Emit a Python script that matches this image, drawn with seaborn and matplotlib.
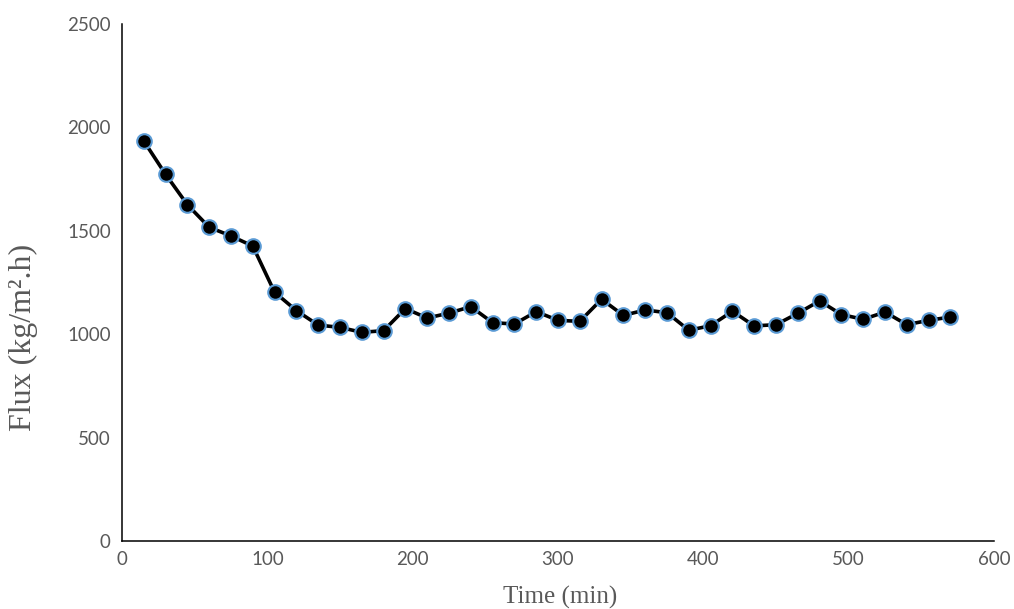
import numpy as np
import pandas as pd
import seaborn as sns
import matplotlib.pyplot as plt

# dados
tempo = [15, 30, 45, 60, 75, 90, 105, 120, 135, 150, 165, 180, 195, 210, 225, 240,
         255, 270, 285, 300, 315, 330, 345, 360, 375, 390, 405, 420, 435, 450, 465,
         480, 495, 510, 525, 540, 555, 570]
fluxo = [1934, 1773, 1626, 1517, 1475, 1426, 1203, 1114, 1044, 1033, 1009, 1017,
         1124, 1078, 1102, 1133, 1056, 1049, 1109, 1067, 1062, 1169, 1091, 1117,
         1104, 1019, 1041, 1111, 1040, 1046, 1101, 1161, 1095, 1072, 1107, 1046,
         1067, 1083]
x_ticks = [0, 100, 200, 300, 400, 500, 600]
y_ticks = [0, 500, 1000, 1500, 2000, 2500]

dados = pd.DataFrame({'Tempo': tempo, 'Fluxo': fluxo})

sns.set_style('white')
plt.rcParams['font.family'] = ['Lato', 'DejaVu Sans']

fig = plt.figure(figsize=(10.14, 6.09), dpi=100)
ax = fig.add_axes([0.1203, 0.1117, 0.86, 0.8489])

sns.lineplot(data=dados, x='Tempo', y='Fluxo', ax=ax, color='black', linewidth=2.6,
             marker='o', markersize=10.5, markerfacecolor='black',
             markeredgecolor='#5B9BD5', markeredgewidth=1.5)

ax.set_xlim(0, 600)
ax.set_ylim(0, 2500)
ax.set_xticks(x_ticks)
ax.set_yticks(y_ticks)
ax.tick_params(axis='both', length=0, labelsize=13.5, labelcolor='#595959')
ax.tick_params(axis='x', pad=7)
ax.tick_params(axis='y', pad=8)

for lado in ['top', 'right']:
    ax.spines[lado].set_visible(False)
for lado in ['left', 'bottom']:
    ax.spines[lado].set_color('black')
    ax.spines[lado].set_linewidth(1.1)

ax.set_xlabel('Time (min)', family='Liberation Serif', fontsize=18, color='#595959', va='center')
ax.set_ylabel('Flux (kg/m\u00b2.h)', family='Liberation Serif', fontsize=23, color='#595959', va='center')
ax.xaxis.set_label_coords(0.502, -0.110)
ax.yaxis.set_label_coords(-0.1135, 0.393)

plt.savefig('out.png', dpi=100)
